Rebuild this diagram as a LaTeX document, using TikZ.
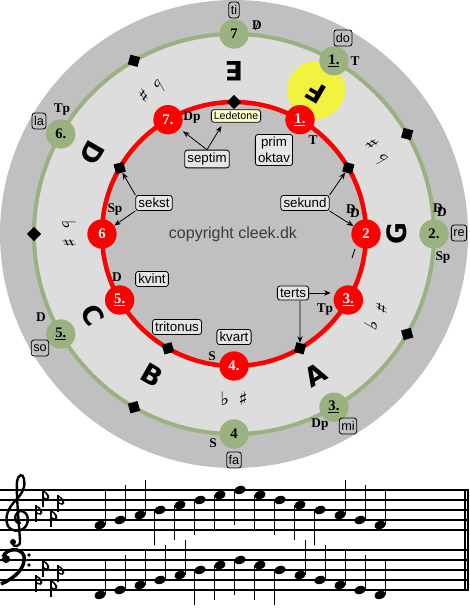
\documentclass[tikz,border=0pt]{standalone}
\usepackage{fontspec}
\setmainfont{Liberation Serif}
\setsansfont{Liberation Sans}
\newfontfamily\accfont{DejaVu Sans}
\definecolor{ringgray}{RGB}{192,192,192}
\definecolor{lightring}{RGB}{221,221,221}
\definecolor{sage}{RGB}{153,178,128}
\definecolor{boxfill}{RGB}{230,230,230}
\definecolor{notefill}{RGB}{255,255,204}
\definecolor{sunny}{RGB}{242,242,64}
\definecolor{inkgray}{RGB}{60,60,60}
\usetikzlibrary{calc, positioning, arrows.meta}

\newcommand{\dubD}{\rlap{D}\kern0.3em\raisebox{-0.35em}{D}}
\newcommand{\crossD}{\rlap{D}\kern0.22em\raisebox{-0.1em}{/}\kern0.22em}

\begin{document}
\begin{tikzpicture}[x=0.75pt, y=0.75pt,
    rednode/.style={circle, fill=red, text=white, minimum size=22pt, inner sep=0pt,
      font=\bfseries\fontsize{11}{11}\selectfont},
    greennode/.style={circle, fill=sage, text=black, minimum size=22pt, inner sep=0pt,
      font=\bfseries\fontsize{11}{11}\selectfont},
    keydot/.style={rectangle, fill=black, minimum size=7.5pt, inner sep=0pt},
    tone/.style={font=\accfont\bfseries\fontsize{20}{20}\selectfont, inner sep=0pt},
    accid/.style={font=\accfont\fontsize{14}{14}\selectfont, inner sep=0pt},
    func/.style={font=\bfseries\fontsize{10}{10}\selectfont, inner sep=0pt},
    interval/.style={draw, fill=boxfill, rounded corners=2pt, line width=0.6pt,
      font=\sffamily\fontsize{10}{12}\selectfont, inner sep=2pt, align=center},
    solfa/.style={draw, rounded corners=2pt, line width=0.6pt, minimum height=12pt,
      font=\sffamily\fontsize{9.5}{10}\selectfont, inner sep=1.5pt},
    pointer/.style={-{Stealth[length=5pt, width=4pt]}, line width=0.6pt},
    flatsign/.pic={
      \draw[line width=1.1pt] (0,-12) -- (0,5);
      \fill[even odd rule] (0,5) .. controls (6,2) and (8.5,-3.5) .. (4.5,-4.8)
          .. controls (2.2,-5.4) and (0.5,-3.5) .. (0,-2.5) -- cycle
        (0.7,3) .. controls (4,0.8) and (5.4,-3) .. (3.5,-3.4)
          .. controls (2.2,-3.6) and (1,-2.3) .. (0.7,-1.2) -- cycle;
    },
  ]
  \useasboundingbox (-234,234) rectangle (235,-381);

  % discs
  \fill[ringgray] (0,0) circle (234);
  \fill[lightring] (0,0) circle (200);
  \fill[ringgray] (0,0) circle (132);
  \fill[sunny] (82,144) circle (29);
  \draw[sage, line width=3pt] (0,0) circle (200);
  \draw[red, line width=3.4pt] (0,0) circle (132);

  % black keys
  \foreach \a/\n in {90/dtop, 30/dsek, -60/dterts, -120/dtrit, 150/dsekst}
    \node[keydot, rotate=\a+45] (\n) at (\a:132) {};
  \foreach \a [count=\k] in {30,-30,-120,180,120}
    \node[keydot, rotate=\a+45] (gk\k) at (\a:200) {};

  % minor ring
  \node[rednode] (r1) at (60:132) {\underline{1.}};
  \node[rednode] (r2) at (0:132) {2};
  \node[rednode] (r3) at (-30:132) {\underline{3.}};
  \node[rednode] (r4) at (-90:132) {4.};
  \node[rednode] (r5) at (210:132) {\underline{5.}};
  \node[rednode] (r6) at (180:132) {6};
  \node[rednode] (r7) at (120:132) {7.};

  % major ring
  \node[greennode] (g1) at (60:200) {\underline{1.}};
  \node[greennode] (g2) at (0:200) {2.};
  \node[greennode] (g3) at (-60:200) {\underline{3.}};
  \node[greennode] (g4) at (-90:200) {4};
  \node[greennode] (g5) at (210:200) {\underline{5.}};
  \node[greennode] (g6) at (150:200) {6.};
  \node[greennode] (g7) at (90:200) {7};

  % tone names and accidentals
  \foreach \a/\t in {60/F, 0/G, -60/A, -120/B, -150/C, 150/D, 90/E}
    \node[tone, rotate=\a+90] (tone\t) at (\a:163) {\t};
  \foreach \a [count=\k] in {30,-30,-90,180,120}
    \node[accid, rotate=\a+90] (acc\k) at (\a:165) {♭\hspace{7pt}♯};

  % functions, minor
  \node[func] (fr1) at (79,94) {T};
  \node[func] (fr7) at (-42,116) {Dp};
  \node[func] (fr2) at (119,23) {\dubD};
  \node[func] (fr3) at (91,-76) {Tp};
  \node[func] (fr4) at (-22,-122) {S};
  \node[func] (fr5) at (-117,-43) {D};
  \node[func] (fr6) at (-119,24) {Sp};
  \draw[line width=0.7pt] (118,-24) -- (121,-15);

  % functions and solfa, major
  \node[solfa] (ti) at (0,224) {ti};
  \node[func] (fg7) at (23,208) {\crossD};
  \node[solfa] (do) at (109,196) {do};
  \node[func] (fg1) at (121,173) {T};
  \node[func] (fg2a) at (206,24) {\dubD};
  \node[solfa] (re) at (225,1) {re};
  \node[func] (fg2b) at (209,-24) {Sp};
  \node[func] (fg3) at (86,-191) {Dp};
  \node[solfa] (mi) at (114,-192) {mi};
  \node[func] (fg4) at (-21,-209) {S};
  \node[solfa] (fa) at (0,-226) {fa};
  \node[func] (fg5) at (-193,-83) {D};
  \node[solfa] (so) at (-194,-114) {so};
  \node[func] (fg6) at (-172,124) {Tp};
  \node[solfa] (la) at (-195,113) {la};

  % intervals
  \node[interval, fill=notefill, font=\sffamily\fontsize{8}{9}\selectfont, inner sep=1.8pt]
    (ledetone) at (2,118) {Ledetone};
  \node[interval] (septim) at (-27,75) {septim};
  \node[interval] (prim) at (40,84) {prim\\oktav};
  \node[interval] (sekund) at (71,31) {sekund};
  \node[interval] (sekst) at (-80,31) {sekst};
  \node[interval] (kvint) at (-82,-45) {kvint};
  \node[interval] (tritonus) at (-57,-93) {tritonus};
  \node[interval] (kvart) at (0,-103) {kvart};
  \node[interval] (terts) at (59,-59) {terts};
  \node[font=\sffamily\fontsize{12}{12}\selectfont, text=inkgray] (copy) at (-1,0)
    {copyright cleek.dk};

  \draw[pointer, shorten >=3pt] (septim.north) -- (r7);
  \draw[pointer, shorten >=3pt] (septim.north) -- ($(ledetone.south west)!0.5!(ledetone.south)$);
  \draw[pointer] (sekund.north east) -- (dsek);
  \draw[pointer] (sekund.south east) -- (r2);
  \draw[pointer] (sekst.north west) -- (dsekst);
  \draw[pointer] (sekst.south west) -- (r6);
  \draw[pointer, shorten >=2pt] (terts.east) -- (terts.east -| r3.west);
  \draw[pointer] (terts.south -| dterts) -- (dterts);

  % staves
  \begin{scope}[shift={(-234,234)}, yscale=-1]
    \foreach \y in {490,500,...,530} \draw[line width=1.4pt] (0,\y) -- (469,\y);
    \foreach \y in {550,560,...,590} \draw[line width=1.4pt] (0,\y) -- (469,\y);
    \draw[line width=1pt] (465,490) -- (465,590);
    \draw[line width=2.2pt] (468,490) -- (468,590);

    % treble clef
    \draw[line width=1.8pt, line cap=round] (20,523) .. controls (15,524) and (13,516) .. (18,512)
      .. controls (24,508) and (30,516) .. (27,524)
      .. controls (24,532) and (12,533) .. (8,526)
      .. controls (4,518) and (8,508) .. (16,500)
      .. controls (22,494) and (26,486) .. (24,479)
      .. controls (23,473) and (18,474) .. (17,482)
      .. controls (16,492) and (19,525) .. (20,540)
      .. controls (21,547) and (14,548) .. (12,543);
    \fill (13,542) circle (3);
    % bass clef
    \fill (6,559) circle (4);
    \draw[line width=2.6pt] (3,557) .. controls (6,548) and (21,547) .. (24,556)
      .. controls (26,568) and (15,578) .. (1,584);
    \fill (29,555) circle (1.8);
    \fill (29,565) circle (1.8);

    % key signatures
    \foreach \x/\y in {36/510, 43/495, 51/515, 58/500} {
      \pic at (\x,\y) {flatsign};
      \pic at (\x,\y+70) {flatsign};
    }

    % scale up and down
    \foreach \s [count=\i from 0] in {0,1,2,3,4,5,6,7,6,5,4,3,2,1,0} {
      \pgfmathsetmacro{\nx}{100+20*\i}
      \pgfmathsetmacro{\ty}{525-5*\s}
      \pgfmathsetmacro{\by}{595-5*\s}
      \fill[rotate around={-20:(\nx,\ty)}] (\nx,\ty) ellipse [x radius=5.8, y radius=4];
      \fill[rotate around={-20:(\nx,\by)}] (\nx,\by) ellipse [x radius=5.8, y radius=4];
      \ifnum\s<3
        \draw[line width=0.9pt] (\nx+5.3,\ty) -- (\nx+5.3,\ty-35);
      \else
        \draw[line width=0.9pt] (\nx-5.3,\ty) -- (\nx-5.3,\ty+35);
      \fi
      \ifnum\s<5
        \draw[line width=0.9pt] (\nx+5.3,\by) -- (\nx+5.3,\by-35);
      \else
        \draw[line width=0.9pt] (\nx-5.3,\by) -- (\nx-5.3,\by+35);
      \fi
    }
  \end{scope}
\end{tikzpicture}
\end{document}
